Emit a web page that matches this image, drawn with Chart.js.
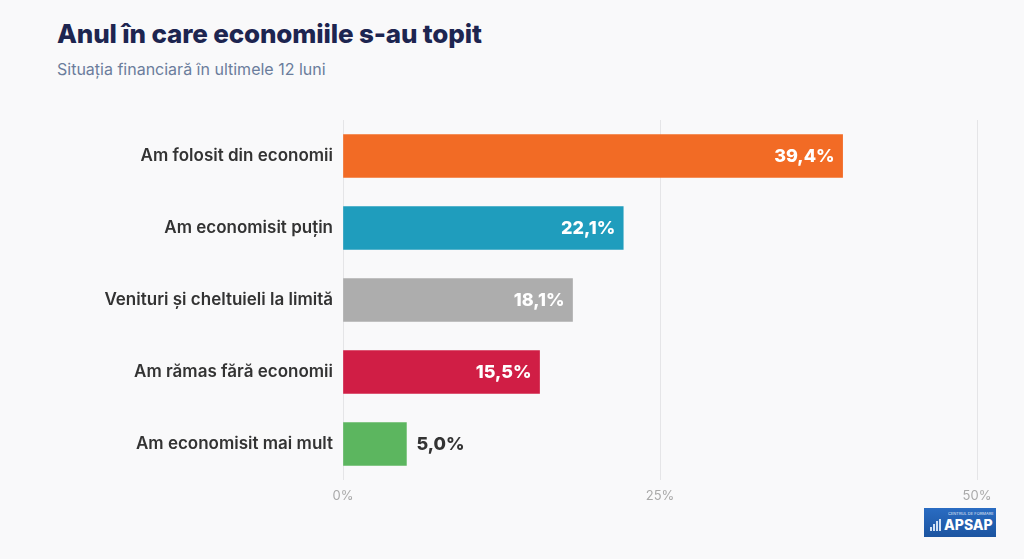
<!DOCTYPE html>
<html>
<head>
<meta charset="utf-8">
<script src="https://cdn.jsdelivr.net/npm/chart.js@4"></script>
<style>
  html, body { margin: 0; padding: 0; background: #f9f9fa; }
  body { width: 1024px; height: 559px; position: relative; overflow: hidden; font-family: "Inter", "Roboto", sans-serif; }
  #title { position: absolute; left: 57px; top: 18px; font-size: 26px; font-weight: 800; color: #1d2550; letter-spacing: -0.15px; }
  #subtitle { position: absolute; left: 57px; top: 59px; font-size: 16px; color: #6b7d9c; }
  #wrap { position: absolute; left: 0; top: 0; width: 1024px; height: 559px; }
  #logo { position: absolute; left: 924px; top: 508px; width: 72px; height: 29px; background: linear-gradient(#2a6cc2, #1b54a0); color: #fff; white-space: nowrap; overflow: hidden; }
  #logo .small { position: absolute; left: 24px; top: 3px; font-size: 5px; transform: scale(0.8); transform-origin: left top; opacity: 0.85; }
  #logo .big { position: absolute; left: 20px; top: 8px; font-size: 14px; font-weight: 800; }
  #logo .ico { position: absolute; left: 6px; bottom: 6px; }
  #logo .ico span { display: inline-block; width: 2px; background: #cfe0f5; margin-right: 1px; vertical-align: bottom; }
</style>
</head>
<body>
<div id="title">Anul în care economiile s-au topit</div>
<div id="subtitle">Situația financiară în ultimele 12 luni</div>
<div id="wrap"><canvas id="chart"></canvas></div>
<div id="logo">
  <div class="ico"><span style="height:4px"></span><span style="height:7px"></span><span style="height:10px"></span><span style="height:12px"></span></div>
  <div class="small">CENTRUL DE FORMARE</div>
  <div class="big">APSAP</div>
</div>
<script>
const categories = [
  "Am folosit din economii",
  "Am economisit puțin",
  "Venituri și cheltuieli la limită",
  "Am rămas fără economii",
  "Am economisit mai mult"
];
const values = [39.4, 22.1, 18.1, 15.5, 5.0];
const barColors = ["#f26b25", "#1f9dbd", "#adadad", "#d01e45", "#5cb65f"];
const tickLabels = ["0%", "25%", "50%"];

// value labels: inside the bar end when it fits, otherwise just after it
const valueLabels = {
  id: "valueLabels",
  afterDatasetsDraw(chart) {
    const ctx = chart.ctx;
    const meta = chart.getDatasetMeta(0);
    ctx.save();
    ctx.font = "800 18px Inter, Roboto, sans-serif";
    ctx.textBaseline = "middle";
    meta.data.forEach((bar, i) => {
      const text = values[i].toFixed(1).replace(".", ",") + "%";
      const w = ctx.measureText(text).width;
      const barW = bar.x - bar.base;
      if (barW > w + 20) {
        ctx.fillStyle = "#ffffff";
        ctx.textAlign = "right";
        ctx.fillText(text, bar.x - 8, bar.y + 1);
      } else {
        ctx.fillStyle = "#333333";
        ctx.textAlign = "left";
        ctx.fillText(text, bar.x + 10, bar.y + 1);
      }
    });
    ctx.restore();
  }
};

new Chart(document.getElementById("chart"), {
  type: "bar",
  data: {
    labels: categories,
    datasets: [{
      data: values,
      backgroundColor: barColors,
      barThickness: 43
    }]
  },
  options: {
    indexAxis: "y",
    responsive: true,
    maintainAspectRatio: false,
    animation: false,
    layout: { padding: { left: 0, right: 47, top: 120, bottom: 49 } },
    plugins: { legend: { display: false }, tooltip: { enabled: false } },
    scales: {
      x: {
        min: 0,
        max: 50,
        ticks: {
          stepSize: 25,
          color: "#a9a9a9",
          font: { family: "Inter, Roboto, sans-serif", size: 13 },
          padding: 8,
          callback: (v) => tickLabels[v / 25]
        },
        grid: { color: "#e5e5e7", drawTicks: false },
        border: { display: false },
        afterFit(scale) { scale.height = 30; }
      },
      y: {
        ticks: {
          color: "#333333",
          font: { family: "Inter, Roboto, sans-serif", size: 17, weight: 600 },
          padding: 2
        },
        grid: { display: false },
        border: { display: false },
        afterFit(scale) { scale.width = 343; }
      }
    }
  },
  plugins: [valueLabels]
});
</script>
</body>
</html>
